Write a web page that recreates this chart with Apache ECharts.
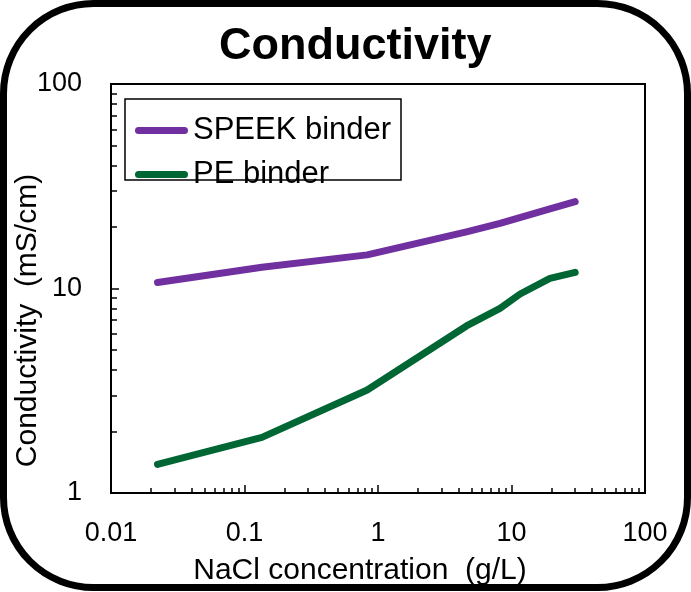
<!DOCTYPE html>
<html>
<head>
<meta charset="utf-8">
<script src="https://cdn.jsdelivr.net/npm/echarts@6/dist/echarts.min.js"></script>
<style>
html,body{margin:0;padding:0;background:#fff;}
#chart{width:691px;height:592px;}
</style>
</head>
<body>
<div id="chart"></div>
<script>
// ---- data ----
const seriesNames = ['SPEEK binder', 'PE binder'];
const speekX = [0.0223, 0.135, 0.83, 4.6, 8.2, 19.4, 30];
const speekY = [10.7, 12.7, 14.6, 18.9, 20.8, 24.5, 26.6];
const peX = [0.0223, 0.135, 0.83, 4.6, 8.2, 11.6, 19.4, 30];
const peY = [1.38, 1.87, 3.19, 6.56, 8.0, 9.4, 11.2, 12.0];
const xMajorTicks = [0.01, 0.1, 1, 10, 100];
const xMinorTicks = [0.02,0.03,0.04,0.05,0.06,0.07,0.08,0.09,0.2,0.3,0.4,0.5,0.6,0.7,0.8,0.9,2,3,4,5,6,7,8,9,20,30,40,50,60,70,80,90];
const yMajorTicks = [1, 10, 100];
const yMinorTicks = [2,3,4,5,6,7,8,9,20,30,40,50,60,70,80,90];

const FONT = 'Liberation Sans, Arial, sans-serif';
const pair = (xs, ys) => xs.map((x, i) => [x, ys[i]]);

const chart = echarts.init(document.getElementById('chart'), null, {renderer: 'canvas'});
const capsule = 'path://M3.5,0 L49.5,0 A3.5,3.5 0 0 1 49.5,7 L3.5,7 A3.5,3.5 0 0 1 3.5,0 Z';

const option = {
  backgroundColor: '#fff',
  animation: false,
  title: {
    text: 'Conductivity',
    left: 219,
    top: 24,
    padding: 0,
    textStyle: {fontFamily: FONT, fontSize: 45, fontWeight: 'bold', color: '#000'}
  },
  legend: {
    orient: 'vertical',
    left: 135,
    top: 115,
    itemWidth: 53,
    itemHeight: 7,
    itemGap: 13,
    itemTextGap: 4,
    selectedMode: false,
    padding: 0,
    data: [
      {name: seriesNames[0], icon: capsule},
      {name: seriesNames[1], icon: capsule}
    ],
    textStyle: {fontFamily: FONT, fontSize: 31, lineHeight: 28, color: '#000'}
  },
  grid: {
    left: 111, right: 46, top: 84, bottom: 99,
    outerBoundsMode: 'none', containLabel: false,
    show: true, borderColor: '#000', borderWidth: 2, backgroundColor: 'transparent'
  },
  xAxis: [
    {
      type: 'log', logBase: 10, min: 0.01, max: 100, position: 'bottom',
      name: 'NaCl concentration  (g/L)', nameLocation: 'middle', nameGap: 63, nameMoveOverlap: false,
      nameTextStyle: {fontFamily: FONT, fontSize: 30, color: '#000', padding: [0, 36, 0, 0]},
      axisLine: {show: true, lineStyle: {color: '#000', width: 2}},
      axisTick: {show: true, inside: true, length: 8, lineStyle: {color: '#000', width: 1.5}, customValues: xMajorTicks},
      axisLabel: {fontFamily: FONT, fontSize: 27, color: '#000', margin: 27, customValues: xMajorTicks,
        formatter: v => String(+v.toPrecision(6))},
      splitLine: {show: false}, minorTick: {show: false}
    },
    {
      type: 'log', logBase: 10, min: 0.01, max: 100, position: 'bottom',
      axisLine: {show: false},
      axisTick: {show: true, inside: true, length: 5, lineStyle: {color: '#000', width: 1.5}, customValues: xMinorTicks},
      axisLabel: {show: false}, splitLine: {show: false}
    }
  ],
  yAxis: [
    {
      type: 'log', logBase: 10, min: 1, max: 100, position: 'left',
      name: 'Conductivity  (mS/cm)', nameLocation: 'middle', nameGap: 68, nameRotate: 90, nameMoveOverlap: false,
      nameTextStyle: {fontFamily: FONT, fontSize: 30, color: '#000', padding: [0, 64, 0, 0]},
      axisLine: {show: true, lineStyle: {color: '#000', width: 2}},
      axisTick: {show: true, inside: true, length: 8, lineStyle: {color: '#000', width: 1.5}, customValues: yMajorTicks},
      axisLabel: {fontFamily: FONT, fontSize: 27, color: '#000', margin: 29, customValues: yMajorTicks},
      splitLine: {show: false}, minorTick: {show: false}
    },
    {
      type: 'log', logBase: 10, min: 1, max: 100, position: 'left',
      axisLine: {show: false},
      axisTick: {show: true, inside: true, length: 6, lineStyle: {color: '#000', width: 1.5}, customValues: yMinorTicks},
      axisLabel: {show: false}, splitLine: {show: false}
    }
  ],
  series: [
    {
      name: seriesNames[0], type: 'line', xAxisIndex: 0, yAxisIndex: 0,
      data: pair(speekX, speekY), symbol: 'none',
      color: '#7030A0',
      lineStyle: {color: '#7030A0', width: 7, cap: 'round', join: 'round'}
    },
    {
      name: seriesNames[1], type: 'line', xAxisIndex: 0, yAxisIndex: 0,
      data: pair(peX, peY), symbol: 'none',
      color: '#006633',
      lineStyle: {color: '#006633', width: 7, cap: 'round', join: 'round'}
    }
  ],
  graphic: [
    {type: 'rect', shape: {x: 125, y: 99, width: 276, height: 81}, style: {fill: 'none', stroke: '#000', lineWidth: 1.5}, z: 100},
    {type: 'rect', shape: {x: 3.5, y: 3.5, width: 684, height: 584, r: 90}, style: {fill: 'none', stroke: '#000', lineWidth: 7}, z: 100}
  ]
};
chart.setOption(option);
</script>
</body>
</html>
